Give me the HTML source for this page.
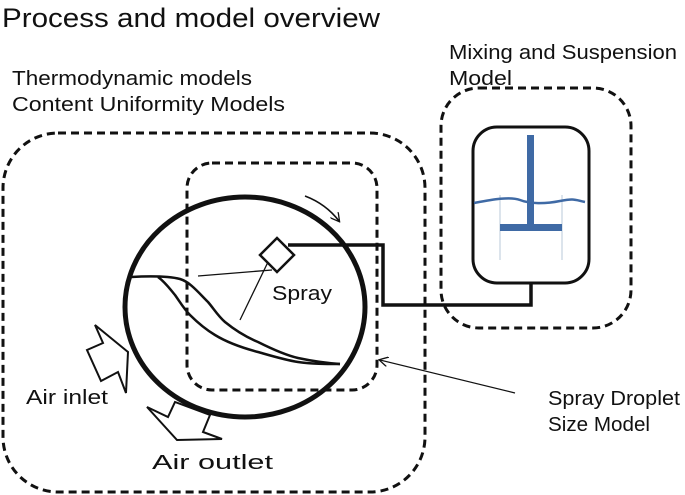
<!DOCTYPE html>
<html><head><style>
html,body{margin:0;padding:0;background:#fff;}
svg{display:block;}
text{font-family:"Liberation Sans",sans-serif;fill:#111;}
</style></head><body>
<svg width="685" height="495" viewBox="0 0 685 495">
<defs>
<marker id="ah" markerWidth="10" markerHeight="10" refX="8" refY="5" orient="auto" markerUnits="userSpaceOnUse">
<path d="M0,0 L9,5 L0,10" fill="none" stroke="#111" stroke-width="1.3"/>
</marker>
</defs>
<text x="2" y="27" font-size="27" textLength="378" lengthAdjust="spacingAndGlyphs">Process and model overview</text>
<text x="12" y="85" font-size="20" textLength="240" lengthAdjust="spacingAndGlyphs">Thermodynamic models</text>
<text x="12" y="111" font-size="20" textLength="273" lengthAdjust="spacingAndGlyphs">Content Uniformity Models</text>
<text x="449" y="59" font-size="20" textLength="228" lengthAdjust="spacingAndGlyphs">Mixing and Suspension</text>
<text x="449" y="85" font-size="20" textLength="63" lengthAdjust="spacingAndGlyphs">Model</text>
<text x="272" y="300" font-size="20" textLength="60" lengthAdjust="spacingAndGlyphs">Spray</text>
<text x="26" y="404" font-size="20" textLength="82" lengthAdjust="spacingAndGlyphs">Air inlet</text>
<text x="152" y="469" font-size="20" textLength="121" lengthAdjust="spacingAndGlyphs">Air outlet</text>
<text x="548" y="405" font-size="20" textLength="132" lengthAdjust="spacingAndGlyphs">Spray Droplet</text>
<text x="548" y="431" font-size="20" textLength="102" lengthAdjust="spacingAndGlyphs">Size Model</text>

<rect x="3" y="133" width="422" height="359" rx="55" fill="none" stroke="#111" stroke-width="3" stroke-dasharray="8,5"/>
<rect x="187" y="163" width="190" height="227" rx="25" fill="none" stroke="#111" stroke-width="3" stroke-dasharray="8,5"/>
<rect x="441" y="88" width="190" height="240" rx="38" fill="none" stroke="#111" stroke-width="3" stroke-dasharray="8,5"/>

<ellipse cx="245" cy="307" rx="120" ry="110" fill="none" stroke="#111" stroke-width="5"/>

<path d="M131,277 C150,276 168,276 180,279 C190,282 198,292 208,302 C214,309 218,316 225,322 C236,331 246,337 258,342 C272,349 285,355 298,358 C312,361 325,363 340,364" fill="none" stroke="#111" stroke-width="2.5"/>
<path d="M158,277 C165,282 170,289 175,295 C180,302 184,309 190,315 C198,323 205,329 215,335 C228,343 243,348 258,352 C272,356 285,360 298,362 C312,364 325,364 340,364" fill="none" stroke="#111" stroke-width="2.5"/>

<line x1="198" y1="276" x2="272" y2="270" stroke="#111" stroke-width="1.3"/>
<line x1="240" y1="320" x2="268" y2="262" stroke="#111" stroke-width="1.3"/>
<polygon points="277,238 294,255 277,272 260,255" fill="#fff" stroke="#111" stroke-width="2.5"/>
<polyline points="288,245 383,245 383,305 531,305 531,283" fill="none" stroke="#111" stroke-width="3.5"/>

<path d="M305,196 Q326,204 339,221" fill="none" stroke="#111" stroke-width="1.6" marker-end="url(#ah)"/>
<line x1="515" y1="393" x2="380" y2="360" stroke="#111" stroke-width="1.2" marker-end="url(#ah)"/>

<rect x="473" y="127" width="116" height="156" rx="24" fill="#fff" stroke="#111" stroke-width="3"/>
<line x1="500" y1="195" x2="500" y2="260" stroke="#b8c8d8" stroke-width="1"/>
<line x1="562" y1="195" x2="562" y2="260" stroke="#b8c8d8" stroke-width="1"/>
<rect x="527" y="135" width="7" height="95" fill="#3f6aa5"/>
<rect x="500" y="224" width="62" height="7" fill="#3f6aa5"/>
<path d="M474,203 C490,200 510,196 520,200 S545,204 560,201 S575,200 585,202" fill="none" stroke="#3f6aa5" stroke-width="2.5"/>

<polygon points="95,325 128,352 126,393 118,372 101,381 87,350 103,343" fill="#fff" stroke="#111" stroke-width="2"/>
<polygon points="147,407 168,417 175,402 210,415 203,432 222,439 177,440" fill="#fff" stroke="#111" stroke-width="2"/>
</svg>
</body></html>
